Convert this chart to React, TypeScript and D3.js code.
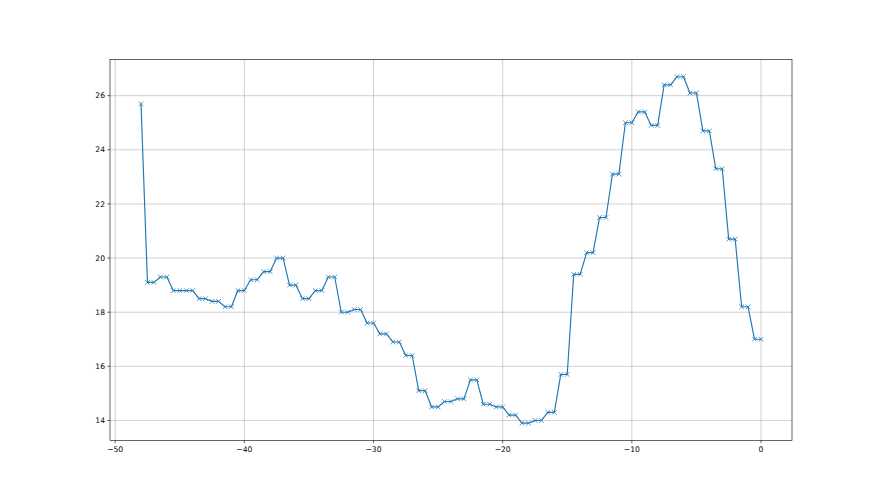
import * as d3 from 'd3'

// first reading at x = -48, then readings every half step, in pairs
const firstValue = 25.7
const pairValues = [
  19.1, 19.3, 18.8, 18.8, 18.5, 18.4, 18.2, 18.8, 19.2, 19.5, 20.0, 19.0,
  18.5, 18.8, 19.3, 18.0, 18.1, 17.6, 17.2, 16.9, 16.4, 15.1, 14.5, 14.7,
  14.8, 15.5, 14.6, 14.5, 14.2, 13.9, 14.0, 14.3, 15.7, 19.4, 20.2, 21.5,
  23.1, 25.0, 25.4, 24.9, 26.4, 26.7, 26.1, 24.7, 23.3, 20.7, 18.2, 17.0,
]
const xTicks = [-50, -40, -30, -20, -10, 0]
const yTicks = [14, 16, 18, 20, 22, 24, 26]

const points: { x: number; y: number }[] = [{ x: -48, y: firstValue }]
pairValues.forEach((v, i) => {
  points.push({ x: -47.5 + i, y: v })
  points.push({ x: -47 + i, y: v })
})

const W = 880, H = 495
const margin = { left: 110, right: 88, top: 59.4, bottom: 54.5 }

export default function App() {
  const xExt = d3.extent(points, d => d.x) as [number, number]
  const yExt = d3.extent(points, d => d.y) as [number, number]
  const xPad = (xExt[1] - xExt[0]) * 0.05
  const yPad = (yExt[1] - yExt[0]) * 0.05

  const x = d3.scaleLinear()
    .domain([xExt[0] - xPad, xExt[1] + xPad])
    .range([margin.left, W - margin.right])
  const y = d3.scaleLinear()
    .domain([yExt[0] - yPad, yExt[1] + yPad])
    .range([H - margin.bottom, margin.top])

  const line = d3.line<{ x: number; y: number }>()
    .x(d => x(d.x))
    .y(d => y(d.y))

  const fmt = (v: number) => (v < 0 ? '\u2212' + Math.abs(v) : String(v))
  const color = '#1f77b4'
  const m = 2.3
  const font = 'DejaVu Sans, sans-serif'

  return (
    <svg width={W} height={H} style={{ position: 'absolute', left: 0, top: 0, background: '#fff' }}>
      <rect x={0} y={0} width={W} height={H} fill="#fff" />
      <g stroke="#b0b0b0" strokeWidth={0.6}>
        {xTicks.map(t => (
          <line key={'gx' + t} x1={x(t)} x2={x(t)} y1={margin.top} y2={H - margin.bottom} />
        ))}
        {yTicks.map(t => (
          <line key={'gy' + t} x1={margin.left} x2={W - margin.right} y1={y(t)} y2={y(t)} />
        ))}
      </g>
      <path d={line(points) ?? ''} fill="none" stroke={color} strokeWidth={1.15} strokeLinejoin="round" />
      <g stroke={color} strokeWidth={0.76}>
        {points.map((p, i) => (
          <g key={i}>
            <line x1={x(p.x) - m} x2={x(p.x) + m} y1={y(p.y) - m} y2={y(p.y) + m} />
            <line x1={x(p.x) - m} x2={x(p.x) + m} y1={y(p.y) + m} y2={y(p.y) - m} />
          </g>
        ))}
      </g>
      <rect x={margin.left} y={margin.top} width={W - margin.left - margin.right}
        height={H - margin.top - margin.bottom} fill="none" stroke="#000" strokeWidth={0.6} />
      <g fontFamily={font} fontSize={7.6} fill="#000">
        {xTicks.map(t => (
          <g key={'tx' + t}>
            <line x1={x(t)} x2={x(t)} y1={H - margin.bottom} y2={H - margin.bottom + 2.7} stroke="#000" strokeWidth={0.6} />
            <text x={x(t)} y={H - margin.bottom + 5} dy="0.8em" textAnchor="middle">{fmt(t)}</text>
          </g>
        ))}
        {yTicks.map(t => (
          <g key={'ty' + t}>
            <line x1={margin.left - 2.7} x2={margin.left} y1={y(t)} y2={y(t)} stroke="#000" strokeWidth={0.6} />
            <text x={margin.left - 5} y={y(t)} dy="0.35em" textAnchor="end">{fmt(t)}</text>
          </g>
        ))}
      </g>
    </svg>
  )
}
